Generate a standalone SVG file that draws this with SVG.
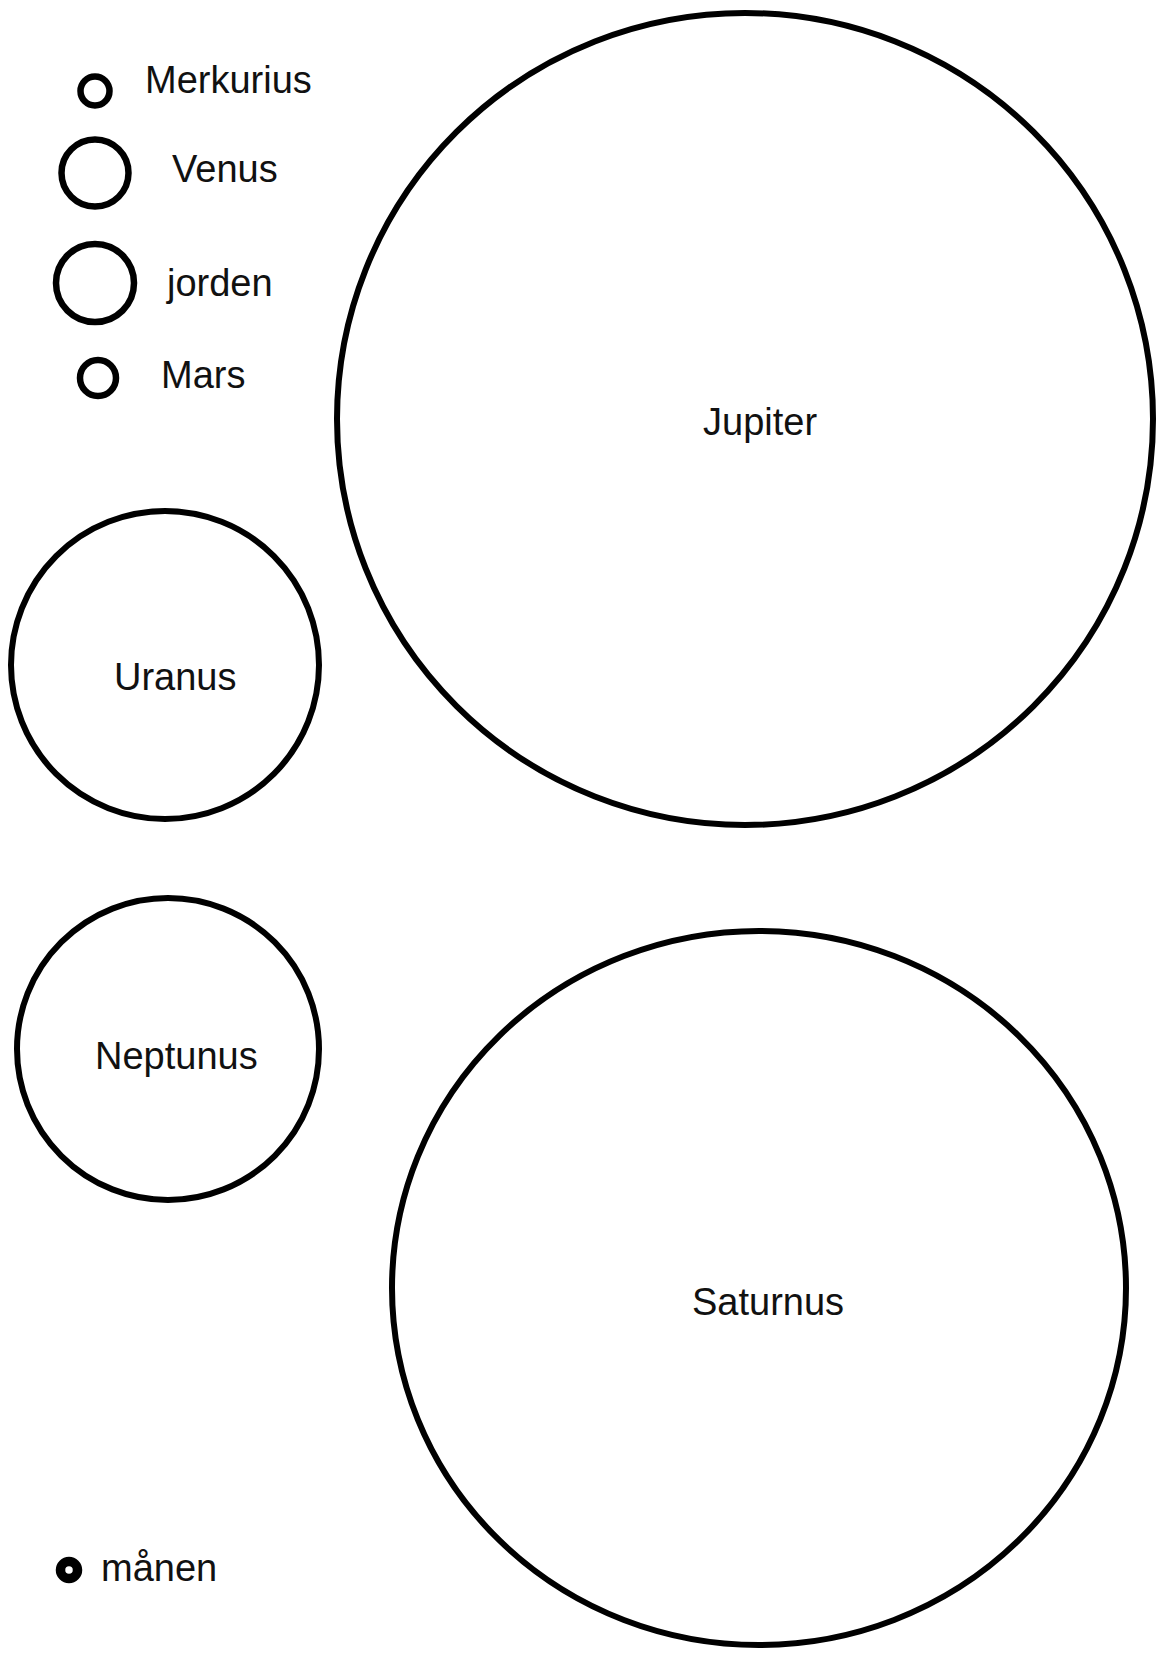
<svg xmlns="http://www.w3.org/2000/svg" width="1160" height="1653" viewBox="0 0 1160 1653">
<style>
.p{fill:none;stroke:#000;stroke-width:6}
.s{fill:none;stroke:#000;stroke-width:6.5}
.t{font-family:"Liberation Sans",Arial,sans-serif;font-size:38px;fill:#111}
</style>
<rect width="1160" height="1653" fill="#fff"/>
<g id="merkurius"><circle class="s" cx="95" cy="91" r="14.5"/><text class="t" x="145" y="93">Merkurius</text></g>
<g id="venus"><circle class="s" cx="95" cy="173" r="33.5"/><text class="t" x="172" y="182">Venus</text></g>
<g id="jorden"><circle class="s" cx="95" cy="283" r="39"/><text class="t" x="167" y="296">jorden</text></g>
<g id="mars"><circle class="s" cx="98" cy="378" r="18"/><text class="t" x="161" y="388">Mars</text></g>
<g id="jupiter"><ellipse class="p" cx="745" cy="419" rx="408" ry="406"/><text class="t" x="703" y="435">Jupiter</text></g>
<g id="uranus"><circle class="p" cx="165" cy="665" r="154"/><text class="t" x="114" y="690">Uranus</text></g>
<g id="neptunus"><circle class="p" cx="168" cy="1049" r="151"/><text class="t" x="95" y="1069">Neptunus</text></g>
<g id="saturnus"><ellipse class="p" cx="759" cy="1288" rx="367" ry="357"/><text class="t" x="692" y="1315">Saturnus</text></g>
<g id="manen"><circle cx="69" cy="1570" r="8.5" fill="none" stroke="#000" stroke-width="9.5"/><text class="t" x="101" y="1581">månen</text></g>
<g id="connectors"></g>
</svg>
